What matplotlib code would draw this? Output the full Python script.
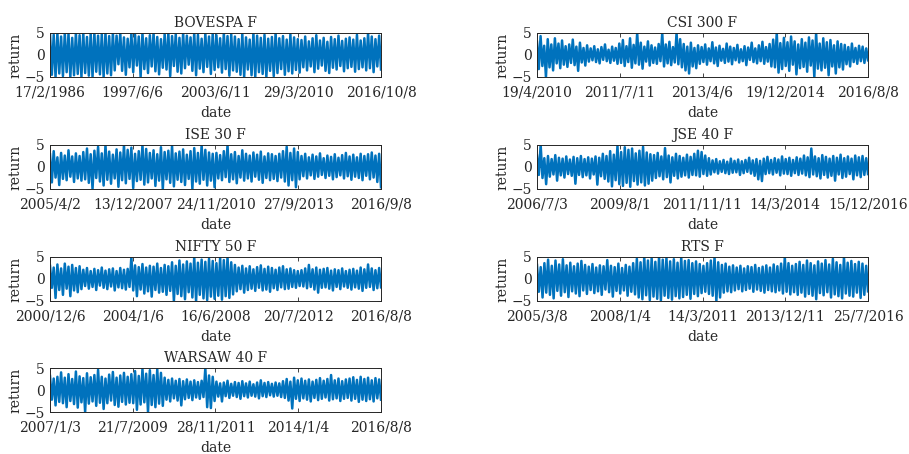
import numpy as np
import matplotlib.pyplot as plt

# Доходности (оценка по рисунку: чередование верхней и нижней огибающей)
bovespa = [5, -4.5, 4.6, -5, 5, -4.2, 4.2, -4.8, 5, -3.9, 4.8, -5, 3.9, -4.6, 5, -4.3, 4.5, -5, 5, -4.1,
           4.1, -4.7, 4.9, -5, 5, -3.8, 4.4, -4.4, 4.7, -5, 5, -4.2, 4.3, -4.6, 5, -3.5,
           4.4, -2.1, 5, -3.6, 4.0, -4.5, 3.7, -2.8, 5, -3.9, 4.6, -2.4, 4.2, -5, 5, -3.2, 3.8, -4.1,
           4.5, -2.6, 5, -3.7, 4.1, -4.4, 3.6, -2.9, 4.8, -3.3, 5, -4.8, 4.3, -2.5, 4.7, -3.8, 3.9, -4.2,
           5, -3.0, 4.4, -2.2, 4.0, -3.6, 5, -4.6, 4.6, -3.1, 3.7, -3.9, 4.9, -2.7, 4.2, -4.3, 5, -3.4,
           4.5, -2.8, 3.8, -4.0, 5, -3.2, 4.3, -4.7, 4.7, -3.5,
           4.2, -3.8, 3.6, -4.5, 4.8, -5, 4.0, -3.3, 3.5, -4.6, 5, -5, 4.4, -3.9, 3.9, -4.3, 4.6, -5,
           3.7, -3.6, 4.1, -4.8, 5, -4.1, 3.8, -3.2, 4.3, -4.5, 3.5, -3.7, 4.7, -4.2, 4.0, -3.4, 3.6, -4.0,
           3.4, -2.8, 4.2, -3.5, 3.1, -2.6, 3.8, -3.9, 4.5, -3.1, 3.3, -2.4, 3.9, -3.6, 3.0, -4.1,
           4.1, -2.9, 3.6, -3.3, 4.4, -2.5, 3.2, -3.7, 3.7, -3.0, 4.0, -2.7, 3.5, -3.8, 4.6, -3.2,
           3.3, -2.8, 3.8, -3.5, 5, -3.0, 4.2, -3.9, 3.6, -2.6, 4.4, -3.3]
csi300 = [3.0, -3.2, 4.3, -2.5, 2.1, -5, 3.6, -2.8, 2.4, -3.5, 3.8, -1.9, 2.6, -3.0, 3.3, -2.2, 2.0, -2.7,
          2.4, -1.8, 3.5, -2.3, 1.9, -3.6, 2.8, -1.7, 1.6, -2.4, 2.2, -1.5,
          1.5, -1.2, 2.0, -1.6, 1.3, -1.9, 1.8, -1.1, 2.4, -1.4, 1.2, -1.8, 1.9, -1.3, 1.6, -2.0,
          2.6, -1.8, 3.4, -2.5, 2.0, -1.6, 3.8, -2.9, 2.3, -1.9, 5, -2.2, 2.8, -3.1, 1.9, -1.5,
          3.1, -2.4, 2.2, -1.8, 1.7, -2.0, 2.5, -1.4, 5, -2.6, 2.4, -1.9, 3.0, -2.3, 1.8, -1.7,
          5, -2.1, 3.6, -2.8,
          2.5, -3.5, 1.9, -4.2, 2.8, -2.6, 1.6, -3.0, 2.2, -2.0,
          1.8, -1.6, 2.4, -2.2, 1.5, -1.4, 2.9, -1.9, 1.7, -2.5, 2.1, -1.3, 1.4, -1.8, 2.6, -1.5,
          1.9, -2.1, 1.6, -1.2, 2.3, -1.7, 1.3, -1.4, 2.0, -2.3, 1.7, -1.1, 2.8, -1.6, 1.5, -1.9,
          2.2, -1.4, 3.0, -2.0, 1.8, -1.5, 2.5, -2.6,
          3.5, -2.8, 5, -4.0, 2.7, -3.2, 3.9, -2.5, 2.9, -3.6, 4.2, -2.2, 3.1, -4.4, 2.4, -3.0,
          3.6, -2.7, 2.8, -3.8, 4.0, -2.4, 3.3, -5, 5, -3.1, 2.6, -3.5, 3.8, -2.9, 2.9, -4.6,
          3.4, -2.6, 2.2, -4.2, 3.1, -2.8, 2.5, -3.3,
          2.3, -2.1, 1.8, -2.6, 2.6, -1.6, 1.6, -2.0, 2.1, -1.4, 1.9, -1.8, 1.5, -1.2]
ise30 = [2.9, -3.5, 3.6, -2.4, 2.2, -4.1, 3.2, -2.7, 2.6, -3.0, 3.8, -2.2, 2.4, -3.4, 3.1, -2.6, 2.5, -3.1,
         3.4, -2.8, 4.2, -3.6, 2.9, -5, 3.7, -2.5, 4.6, -3.3, 3.1, -4.2, 5, -2.9, 3.5, -3.8,
         2.8, -2.6, 4.0, -4.5, 3.3, -3.0, 5, -3.7, 3.9, -2.7, 4.4, -4.8, 3.0, -3.2, 3.6, -2.9,
         5, -4.0, 4.1, -3.5, 3.2, -2.6, 3.8, -4.3, 2.9, -3.1, 4.5, -5, 3.4, -2.8, 3.7, -3.6,
         4.8, -4.4, 3.1, -2.9, 3.5, -3.4, 4.0, -4.1, 2.8, -2.7, 3.6, -5, 4.3, -3.3, 3.2, -3.8,
         5, -2.9, 3.9, -4.2, 3.3, -3.1, 3.0, -4.6,
         3.2, -2.6, 2.7, -3.0, 3.6, -2.3, 5, -3.4, 2.9, -2.8, 3.4, -3.7, 2.5, -2.4, 3.8, -3.1,
         3.0, -2.6, 2.6, -3.3, 3.3, -2.2, 2.8, -2.9, 3.5, -3.6, 2.4, -2.5, 3.1, -3.0, 2.9, -2.7,
         2.5, -3.2, 3.0, -2.4,
         3.6, -3.3, 4.6, -4.2, 3.2, -3.0, 4.2, -4.6, 3.4, -2.8,
         2.5, -2.1, 3.0, -2.6, 2.2, -1.9, 2.8, -2.7, 2.4, -2.2, 3.1, -1.8, 2.0, -2.5, 2.6, -2.0,
         2.3, -2.8, 2.9, -2.3, 2.1, -1.9, 2.7, -2.6, 3.2, -2.1, 2.4, -2.9, 2.8, -2.2, 2.2, -2.5,
         3.0, -3.0, 2.5, -2.0, 2.9, -2.8, 3.3, -2.4, 2.6, -3.4, 3.0, -4.6]
jse40 = [2.6, -1.8, 5, -2.5, 2.0, -3.9, 2.5, -2.2, 1.8, -1.7, 2.7, -3.1, 2.1, -1.9, 1.9, -2.4, 2.4, -1.6,
         1.7, -2.0, 2.3, -3.8, 2.0, -1.8, 2.5, -2.3, 1.8, -1.9, 2.2, -2.6, 1.9, -1.7, 2.4, -4.0, 2.1, -2.1,
         3.0, -2.7, 2.5, -3.3, 3.6, -4.4, 2.8, -3.0, 4.8, -3.9, 3.4, -4.3, 4.5, -3.6, 3.9, -4.5,
         4.2, -3.2, 3.1, -4.0, 3.7, -3.5, 4.6, -4.2, 3.3, -3.8, 2.9, -3.1,
         2.7, -2.5, 3.2, -2.1, 2.4, -2.8, 4.3, -2.3, 2.6, -3.5, 2.2, -2.0, 3.0, -2.6, 2.5, -2.2,
         2.1, -1.9, 2.8, -2.4, 2.3, -1.8,
         3.0, -1.9, 3.7, -2.2, 3.4, -1.6, 2.6, -2.0, 2.0, -1.7,
         1.5, -1.2, 1.8, -1.5, 1.3, -1.1, 1.6, -1.4, 1.2, -1.6, 1.9, -1.3, 1.4, -1.2, 1.7, -1.8,
         1.3, -1.4, 1.6, -1.1, 2.1, -1.5, 1.5, -2.0, 1.8, -2.8, 1.4, -3.2, 1.9, -1.6, 2.3, -1.4,
         1.6, -1.7, 2.0, -1.3, 1.7, -1.9, 2.4, -1.5, 1.8, -1.6, 2.1, -2.0, 1.6, -1.4, 2.2, -1.8,
         1.9, -1.5,
         2.6, -1.9, 2.2, -2.3, 4.2, -1.7, 2.4, -2.1, 2.0, -2.6, 2.7, -1.8, 2.3, -2.4, 1.9, -2.0,
         2.5, -3.1, 2.1, -1.7, 2.8, -2.5, 2.0, -2.2, 2.4, -1.6, 1.9, -2.8, 2.6, -1.9, 2.2, -2.3,
         2.5, -1.8, 2.0, -1.6]
nifty50 = [3.0, -2.0, 2.6, -4.3, 3.3, -2.5, 2.4, -3.6, 3.5, -2.2, 2.8, -3.9, 3.2, -2.6, 2.5, -3.0, 2.9, -2.3,
           2.1, -1.6, 2.5, -2.2, 1.8, -1.8, 2.3, -2.5, 2.0, -1.5, 2.6, -2.0, 1.9, -2.3, 2.2, -1.7,
           2.4, -2.6, 1.8, -1.9, 2.5, -2.1, 2.1, -2.4, 2.3, -1.8,
           5, -2.6, 3.1, -3.9, 2.7, -2.4, 3.4, -3.3, 2.6, -2.8, 3.0, -4.0, 2.8, -2.5, 3.5, -3.1,
           2.5, -2.9, 3.2, -3.6, 2.9, -2.7,
           3.8, -5, 3.0, -3.4, 4.2, -3.9, 3.3, -4.6, 4.0, -3.0, 3.5, -4.2, 5, -5, 3.7, -3.6,
           4.4, -4.4, 3.9, -4.8, 4.6, -4.0, 4.1, -4.5, 3.6, -3.8, 4.8, -4.7, 4.3, -3.9, 5, -4.3,
           3.8, -3.5,
           3.2, -2.8, 2.6, -2.3, 3.0, -3.1, 2.4, -2.5, 2.9, -2.2, 2.2, -2.7, 2.7, -2.0, 3.1, -2.6,
           2.3, -2.4, 2.8, -2.9, 2.5, -2.1, 2.1, -2.5, 2.6, -1.9, 2.9, -2.3, 2.2, -2.2, 2.4, -1.8,
           2.0, -2.0, 1.8, -1.6,
           2.0, -1.7, 2.4, -2.1, 3.2, -1.8, 2.2, -2.4, 2.6, -3.1, 2.1, -2.0, 2.3, -1.9, 2.5, -2.2,
           1.9, -2.6, 2.2, -1.8, 2.0, -2.3, 2.4, -1.7, 1.8, -2.0, 2.1, -2.4, 2.3, -1.9, 1.9, -2.2,
           2.6, -2.7, 2.2, -2.0, 3.3, -1.8, 2.4, -2.5, 2.0, -2.1, 2.5, -1.9]
rts = [3.2, -2.9, 2.7, -4.2, 3.6, -3.1, 4.4, -3.6, 3.0, -4.4, 4.2, -2.7, 3.3, -3.8, 4.5, -3.0,
       3.1, -4.1, 3.7, -2.8, 2.9, -3.3, 3.5, -3.9, 4.1, -2.6, 3.2, -3.4,
       2.8, -2.5, 3.4, -3.2, 2.6, -2.8, 3.1, -3.6, 2.9, -2.4, 4.3, -3.0, 3.0, -4.0, 2.7, -2.7,
       3.5, -3.3, 2.5, -2.6, 3.2, -3.8, 2.8, -2.9, 3.6, -3.5,
       4.6, -4.2, 3.8, -4.6, 5, -3.7, 4.2, -4.8, 4.7, -4.0, 3.9, -4.5, 5, -4.9, 4.4, -3.8,
       4.8, -4.3, 4.0, -4.7, 4.5, -3.9, 3.7, -4.4, 4.9, -4.1, 4.1, -3.6, 4.3, -4.5, 3.6, -3.4,
       4.0, -3.9, 3.4, -3.2,
       3.0, -2.9, 3.6, -3.4, 4.2, -3.8, 5, -5, 3.8, -4.2, 3.2, -3.1, 3.5, -2.8, 2.8, -3.0, 3.1, -2.6,
       2.6, -2.3, 3.0, -2.8, 2.4, -2.5, 2.9, -2.2, 2.7, -2.9, 3.2, -2.4, 2.5, -2.7, 2.8, -3.1,
       3.1, -2.5, 2.6, -2.8, 3.3, -3.0, 2.9, -2.6, 3.5, -3.3, 5, -2.9, 3.6, -3.5, 3.0, -3.0,
       3.4, -3.6, 3.9, -3.1, 3.2, -4.0, 4.2, -3.4, 3.6, -3.8, 3.1, -4.6, 4.0, -3.2, 3.5, -3.7,
       4.3, -3.0, 3.3, -4.2, 4.6, -3.5, 3.8, -3.9, 3.2, -4.4, 5, -3.3, 3.7, -3.8, 4.1, -4.0,
       3.4, -3.1, 3.9, -4.3, 3.5, -3.6, 3.0, -2.8]
warsaw40 = [3.2, -2.2, 2.6, -3.5, 3.0, -2.7, 4.0, -3.0, 2.8, -3.9, 3.6, -2.5, 2.5, -3.2, 4.2, -4.0,
            3.1, -2.8, 2.7, -5, 3.8, -3.1, 2.9, -2.6, 3.4, -3.6, 4.6, -2.9, 3.0, -4.3, 2.6, -3.0,
            3.5, -2.4, 4.1, -3.4, 2.8, -3.8, 3.3, -2.7, 3.9, -3.3, 3.0, -2.9,
            3.6, -3.0, 4.3, -4.5, 3.2, -3.3, 4.8, -2.8, 3.7, -5, 4.5, -3.4, 3.4, -3.9, 4.7, -3.1, 3.9, -3.6,
            2.8, -2.2, 2.3, -2.6, 2.6, -1.9, 2.1, -2.4, 2.5, -3.5, 2.0, -2.1, 2.4, -1.8, 1.9, -2.3,
            2.2, -1.7, 1.8, -2.0, 2.1, -1.6,
            5, -3.9, 3.3, -4.1, 3.0, -2.5,
            1.9, -1.5, 1.5, -2.6, 1.7, -1.4, 2.1, -1.8, 1.4, -1.3, 1.8, -1.6, 1.6, -2.0, 2.0, -1.4,
            1.5, -1.7, 1.9, -1.3, 1.3, -1.5, 1.7, -1.9, 2.2, -1.4, 1.6, -1.6, 1.8, -1.2, 1.4, -1.5,
            1.7, -1.3, 1.5, -1.6,
            2.0, -1.8, 2.5, -2.4, 1.9, -4.2, 2.8, -2.0, 2.2, -2.5, 2.6, -1.9, 2.1, -2.2, 2.4, -2.6,
            1.9, -1.8, 2.3, -2.3, 2.7, -2.0, 2.1, -1.7, 2.5, -2.4, 3.4, -2.1, 2.2, -1.9, 2.6, -2.5,
            2.0, -2.0, 2.4, -1.8,
            2.6, -2.4, 2.9, -2.0, 2.3, -2.7, 3.0, -2.2, 2.5, -2.5, 2.8, -2.1, 2.2, -2.6, 2.7, -1.9, 2.4, -2.2]

titles = ['BOVESPA F', 'CSI 300 F', 'ISE 30 F', 'JSE 40 F',
          'NIFTY 50 F', 'RTS F', 'WARSAW 40 F']
series = [bovespa, csi300, ise30, jse40, nifty50, rts, warsaw40]
date_labels = [
    ['17/2/1986', '1997/6/6', '2003/6/11', '29/3/2010', '2016/10/8'],
    ['19/4/2010', '2011/7/11', '2013/4/6', '19/12/2014', '2016/8/8'],
    ['2005/4/2', '13/12/2007', '24/11/2010', '27/9/2013', '2016/9/8'],
    ['2006/7/3', '2009/8/1', '2011/11/11', '14/3/2014', '15/12/2016'],
    ['2000/12/6', '2004/1/6', '16/6/2008', '20/7/2012', '2016/8/8'],
    ['2005/3/8', '2008/1/4', '14/3/2011', '2013/12/11', '25/7/2016'],
    ['2007/1/3', '21/7/2009', '28/11/2011', '2014/1/4', '2016/8/8'],
]

plt.rcParams['font.family'] = ['DejaVu Serif']
plt.rcParams['font.size'] = 10
txt = '#262626'

fig = plt.figure(figsize=(9.09, 4.54), dpi=100)

lefts = [50 / 909, 537 / 909]
bottoms = [1 - 77 / 454, 1 - 189 / 454, 1 - 301 / 454, 1 - 412 / 454]
w, h = 331 / 909, 44 / 454

for i, (y, name, labs) in enumerate(zip(series, titles, date_labels)):
    ax = fig.add_axes([lefts[i % 2], bottoms[i // 2], w, h])
    y = np.array(y)
    x = np.arange(len(y))
    ax.plot(x, y, color='#0072BD', lw=1.8)
    ax.set_xlim(0, len(y) - 1)
    ax.set_ylim(-5, 5)
    ax.set_yticks([-5, 0, 5])
    ax.set_yticklabels(['−5', '0', '5'])
    ax.set_xticks(np.linspace(0, len(y) - 1, 5))
    ax.set_xticklabels(labs)
    ax.tick_params(axis='y', pad=4)
    ax.tick_params(axis='x', pad=6)
    ax.tick_params(direction='in', top=True, right=True, length=3,
                   width=0.6, colors=txt, labelsize=10)
    for s in ax.spines.values():
        s.set_linewidth(0.7)
        s.set_color('#262626')
    ax.set_title(name, fontsize=10, color=txt, pad=4)
    ax.set_xlabel('date', color=txt, labelpad=5)
    ax.set_ylabel('return', color=txt, labelpad=1)

plt.savefig('out.png', dpi=100)
